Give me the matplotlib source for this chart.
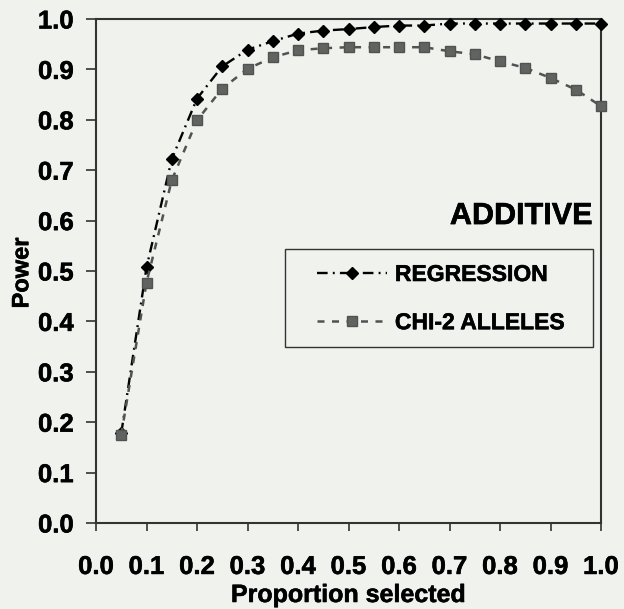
import matplotlib
matplotlib.use("Agg")
import matplotlib.pyplot as plt
import matplotlib.patheffects as pe
from matplotlib.patches import Rectangle

plt.rcParams['font.family'] = ['Liberation Sans', 'DejaVu Sans']
plt.rcParams['font.weight'] = 'bold'

# proportion of the sample selected
prop = [0.05, 0.10, 0.15, 0.20, 0.25, 0.30, 0.35, 0.40, 0.45, 0.50,
        0.55, 0.60, 0.65, 0.70, 0.75, 0.80, 0.85, 0.90, 0.95, 1.00]
# power of each test
power_regression = [0.178, 0.507, 0.722, 0.842, 0.906, 0.939, 0.956, 0.971, 0.977, 0.980,
                    0.984, 0.987, 0.987, 0.991, 0.991, 0.991, 0.991, 0.991, 0.991, 0.991]
power_chi2 = [0.175, 0.477, 0.680, 0.799, 0.862, 0.901, 0.924, 0.938, 0.942, 0.944,
              0.944, 0.944, 0.944, 0.936, 0.930, 0.916, 0.903, 0.883, 0.860, 0.827]
xticks = [0.0, 0.1, 0.2, 0.3, 0.4, 0.5, 0.6, 0.7, 0.8, 0.9, 1.0]
yticks = [0.0, 0.1, 0.2, 0.3, 0.4, 0.5, 0.6, 0.7, 0.8, 0.9, 1.0]

bg = '#f0f2ee'
ink = [pe.withStroke(linewidth=0.4, foreground='black')]
W, H = 624, 609
fig = plt.figure(figsize=(W/100, H/100), dpi=100, facecolor=bg)
ax = fig.add_axes([96/W, 1-523/H, 505/W, 504/H], facecolor=bg)

l1, = ax.plot(prop, power_regression, color='black', lw=1.7, marker='D', ms=6,
              mfc='black', mec='black', label='REGRESSION', clip_on=False, zorder=3)
l1.set_dashes([4.5, 2.2, 0.8, 2.2])
l2, = ax.plot(prop, power_chi2, color='#505350', lw=1.8, marker='s', ms=7.5,
              mfc='#616361', mec='#505350', label='CHI-2 ALLELES', clip_on=False, zorder=4)
l2.set_dashes([2.8, 3])

ax.set_xlim(0, 1)
ax.set_ylim(0, 1)
ax.set_xticks(xticks)
ax.set_yticks(yticks)
ax.set_xticklabels(['%.1f' % v for v in xticks])
ax.set_yticklabels(['%.1f' % v for v in yticks])
ax.tick_params(axis='x', direction='out', length=6, width=1.2, color='#333333',
               pad=17, labelsize=18.5)
ax.tick_params(axis='y', direction='out', length=7, width=1.2, color='#333333',
               pad=9, labelsize=18.5)
for lab in ax.get_xticklabels() + ax.get_yticklabels():
    lab.set_path_effects(ink)
for s in ax.spines.values():
    s.set_color('#333333')
    s.set_linewidth(1.5)

ax.set_xlabel('Proportion selected', fontsize=18, fontweight='bold', va='center',
              path_effects=ink)
ax.xaxis.set_label_coords(0.5, (523-595)/504)
ax.set_ylabel('Power', fontsize=17, fontweight='bold', va='center', path_effects=ink)
ax.yaxis.set_label_coords(-0.147, 0.496)

ax.text(0.982, 0.609, 'ADDITIVE', transform=ax.transAxes, ha='right', va='center',
        fontsize=22, fontweight='bold', path_effects=ink)

# legend frame drawn separately so the entries can sit inside it freely
box = Rectangle((285/W, 1-347/H), 308/W, 98/H, transform=fig.transFigure,
                facecolor=bg, edgecolor='#333333', lw=1.0, zorder=5, clip_on=False)
ax.add_patch(box)
leg = ax.legend(loc='upper left', bbox_to_anchor=(317/W, 1-263/H),
                bbox_transform=fig.transFigure, borderaxespad=0, borderpad=0,
                fontsize=16.5, handlelength=3.05, handletextpad=0.35,
                labelspacing=1.1, frameon=False)
leg.set_zorder(6)
for t in leg.get_texts():
    t.set_fontweight('bold')
    t.set_path_effects(ink)

fig.savefig('out.png', dpi=100, facecolor=bg)
